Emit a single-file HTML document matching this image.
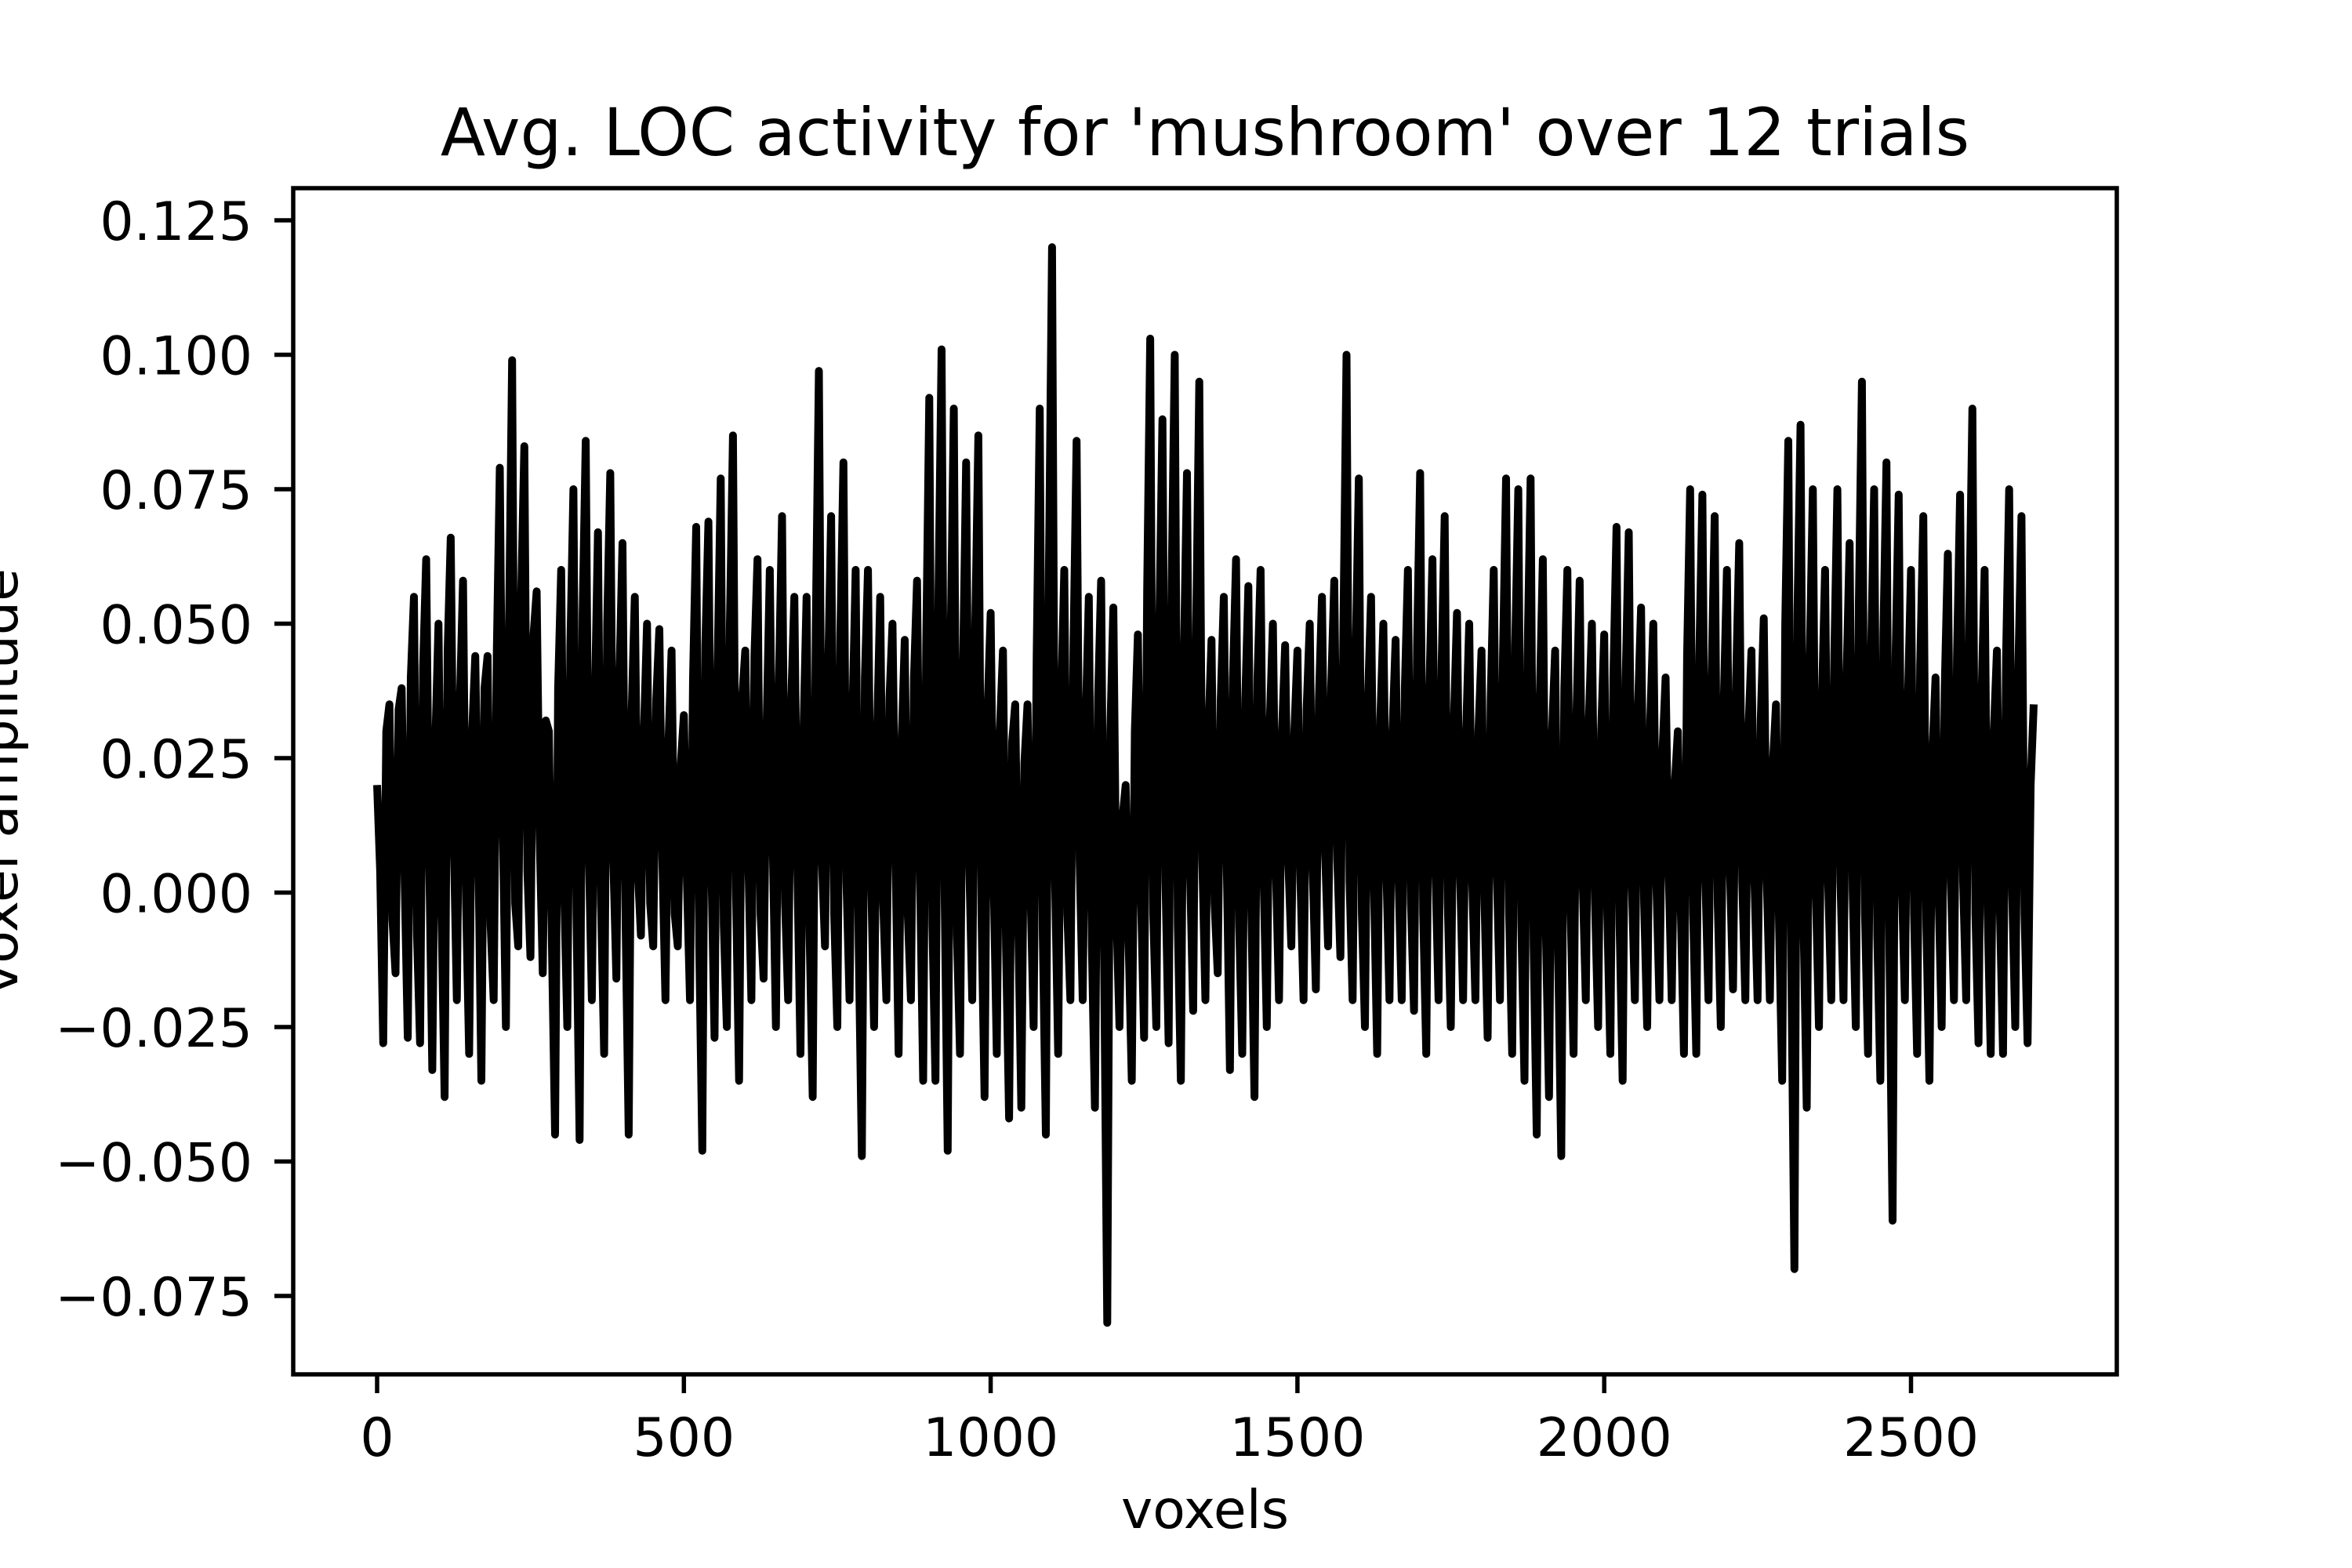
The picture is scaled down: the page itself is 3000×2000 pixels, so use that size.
<!DOCTYPE html>
<html><head><meta charset="utf-8"><style>
html,body{margin:0;padding:0;background:#fff;}
svg{display:block;font-family:"DejaVu Sans","Liberation Sans",sans-serif;}
</style></head><body>
<svg id="chart" width="3000" height="2000" viewBox="0 0 3000 2000" xmlns="http://www.w3.org/2000/svg">
<rect width="3000" height="2000" fill="#fff"/>
<text x="1537" y="198" font-size="83.5" text-anchor="middle">Avg. LOC activity for 'mushroom' over 12 trials</text>
<g id="plot"></g>
<text x="1537" y="1949" font-size="68" text-anchor="middle">voxels</text>
<text transform="translate(22,997) rotate(-90)" font-size="68" text-anchor="middle">voxel amplitude</text>
</svg>
<script>
const xTicks = [0, 500, 1000, 1500, 2000, 2500];
const xTickLabels = ["0", "500", "1000", "1500", "2000", "2500"];
const yTicks = [-0.075, -0.05, -0.025, 0, 0.025, 0.05, 0.075, 0.1, 0.125];
const yTickLabels = ["\u22120.075", "\u22120.050", "\u22120.025", "0.000", "0.025", "0.050", "0.075", "0.100", "0.125"];
const voxelStep = 10;
const amplitudes = [
0.02,-0.028,0.035,-0.015,0.038,-0.027,0.055,-0.028,0.062,-0.033,
0.05,-0.038,0.066,-0.02,0.058,-0.03,0.044,-0.035,0.044,-0.02,
0.079,-0.025,0.099,-0.01,0.083,-0.012,0.056,-0.015,0.03,-0.045,
0.06,-0.025,0.075,-0.046,0.084,-0.02,0.067,-0.03,0.078,-0.016,
0.065,-0.045,0.055,-0.008,0.05,-0.01,0.049,-0.02,0.045,-0.01,
0.033,-0.02,0.068,-0.048,0.069,-0.027,0.077,-0.025,0.085,-0.035,
0.045,-0.02,0.062,-0.016,0.06,-0.025,0.07,-0.02,0.055,-0.03,
0.055,-0.038,0.097,-0.01,0.07,-0.025,0.08,-0.02,0.06,-0.049,
0.06,-0.025,0.055,-0.02,0.05,-0.03,0.047,-0.02,0.058,-0.035,
0.092,-0.035,0.101,-0.048,0.09,-0.03,0.08,-0.02,0.085,-0.038,
0.052,-0.03,0.045,-0.042,0.035,-0.04,0.035,-0.025,0.09,-0.045,
0.12,-0.03,0.06,-0.02,0.084,-0.02,0.055,-0.04,0.058,-0.08,
0.053,-0.025,0.02,-0.035,0.048,-0.027,0.103,-0.025,0.088,-0.028,
0.1,-0.035,0.078,-0.022,0.095,-0.02,0.047,-0.015,0.055,-0.033,
0.062,-0.03,0.057,-0.038,0.06,-0.025,0.05,-0.02,0.046,-0.01,
0.045,-0.02,0.05,-0.018,0.055,-0.01,0.058,-0.012,0.1,-0.02,
0.077,-0.025,0.055,-0.03,0.05,-0.02,0.047,-0.02,0.06,-0.022,
0.078,-0.03,0.062,-0.02,0.07,-0.025,0.052,-0.02,0.05,-0.02,
0.045,-0.027,0.06,-0.02,0.077,-0.03,0.075,-0.035,0.077,-0.045,
0.062,-0.038,0.045,-0.049,0.06,-0.03,0.058,-0.02,0.05,-0.025,
0.048,-0.03,0.068,-0.035,0.067,-0.02,0.053,-0.025,0.05,-0.02,
0.04,-0.02,0.03,-0.03,0.075,-0.03,0.074,-0.02,0.07,-0.025,
0.06,-0.018,0.065,-0.02,0.045,-0.02,0.051,-0.02,0.035,-0.035,
0.084,-0.07,0.087,-0.04,0.075,-0.025,0.06,-0.02,0.075,-0.02,
0.065,-0.025,0.095,-0.03,0.075,-0.035,0.08,-0.061,0.074,-0.02,
0.06,-0.03,0.07,-0.035,0.04,-0.025,0.063,-0.02,0.074,-0.02,
0.09,-0.028,0.06,-0.03,0.045,-0.03,0.075,-0.025,0.07,-0.028,0.035
];
const midAmplitudes = [
0.004,0.03,-0.005,0.034,0.002,0.04,-0.008,0.042,0.006,0.028,
-0.004,0.045,0.01,0.036,-0.002,0.03,0.008,0.038,-0.006,0.044,
0.012,0.05,-0.002,0.056,0.004,0.048,0.01,0.032,-0.01,0.038,
0.0,0.046,-0.004,0.052,0.008,0.036,-0.002,0.05,0.006,0.04,
-0.006,0.034,0.004,0.03,-0.002,0.036,0.006,0.028,-0.004,0.024,
0.002,0.04,-0.01,0.046,0.004,0.042,-0.006,0.05,0.0,0.036,
0.006,0.044,-0.004,0.032,0.008,0.04,-0.002,0.036,0.004,0.03,
-0.008,0.05,0.006,0.04,-0.004,0.048,0.002,0.034,-0.01,0.04,
0.004,0.03,-0.002,0.036,0.006,0.028,-0.004,0.04,0.002,0.046,
-0.006,0.056,0.0,0.048,-0.008,0.042,0.006,0.05,-0.004,0.034,
0.002,0.03,-0.01,0.028,-0.006,0.024,0.0,0.044,-0.008,0.06,
0.002,0.036,-0.004,0.046,0.006,0.032,-0.01,0.036,-0.014,0.03,
-0.004,0.014,-0.01,0.03,0.0,0.056,-0.004,0.05,0.002,0.058,
-0.006,0.044,0.004,0.05,0.006,0.03,-0.002,0.036,0.004,0.04,
-0.006,0.036,-0.004,0.04,0.002,0.032,0.004,0.03,0.006,0.03,
0.002,0.034,0.004,0.036,0.008,0.038,0.006,0.05,0.002,0.044,
-0.004,0.036,0.0,0.032,0.004,0.03,0.002,0.038,-0.002,0.046,
-0.004,0.038,0.004,0.042,-0.002,0.032,0.004,0.03,0.002,0.03,
-0.002,0.036,0.004,0.044,-0.004,0.046,-0.006,0.044,-0.01,0.036,
-0.008,0.03,-0.012,0.038,-0.002,0.034,0.002,0.032,-0.002,0.03,
-0.004,0.04,-0.006,0.04,0.002,0.034,-0.002,0.032,0.002,0.026,
0.004,0.02,-0.004,0.044,-0.004,0.044,0.002,0.04,-0.002,0.036,
0.004,0.04,0.002,0.03,0.002,0.032,0.002,0.024,-0.006,0.05,
-0.014,0.052,-0.006,0.044,0.0,0.036,0.002,0.044,0.002,0.04,
0.0,0.054,-0.004,0.044,-0.008,0.048,-0.012,0.044,0.002,0.036,
-0.004,0.042,-0.006,0.026,0.0,0.038,0.002,0.044,0.002,0.05,
-0.004,0.036,-0.004,0.03,-0.004,0.044,0.0,0.042,-0.004,0.02
];

const NS = "http://www.w3.org/2000/svg";
const L = 374, R = 2700, T = 240, B = 1753;
function xScale(v){ return 481 + v * (2437.5 - 481) / 2500; }
function yScale(v){ return 1138.5 - v * (171.5 / 0.025); }
const plot = document.getElementById('plot');

const pts = [];
amplitudes.forEach((a, i) => {
  pts.push(xScale(i * voxelStep).toFixed(1) + ',' + yScale(a).toFixed(1));
  if (i < midAmplitudes.length && i < amplitudes.length - 1) {
    pts.push(xScale(i * voxelStep + voxelStep / 2).toFixed(1) + ',' + yScale(midAmplitudes[i]).toFixed(1));
  }
});
const line = document.createElementNS(NS, 'polyline');


line.setAttribute('points', pts.join(' '));
line.setAttribute('fill', 'none');
line.setAttribute('stroke', '#000');
line.setAttribute('stroke-width', '10');
line.setAttribute('stroke-linejoin', 'round');
plot.appendChild(line);

const frame = document.createElementNS(NS, 'rect');


frame.setAttribute('x', L); frame.setAttribute('y', T);
frame.setAttribute('width', R - L); frame.setAttribute('height', B - T);
frame.setAttribute('fill', 'none'); frame.setAttribute('stroke', '#000'); frame.setAttribute('stroke-width', '5.5');
plot.appendChild(frame);

xTicks.forEach((v, i) => {
  const x = xScale(v);
  const t = document.createElementNS(NS, 'line');
  
  
  t.setAttribute('x1', x); t.setAttribute('x2', x); t.setAttribute('y1', B); t.setAttribute('y2', B + 24);
  t.setAttribute('stroke', '#000'); t.setAttribute('stroke-width', '5.5');
  plot.appendChild(t);
  const lb = document.createElementNS(NS, 'text');
  
  
  lb.setAttribute('x', x); lb.setAttribute('y', 1857);
  lb.setAttribute('font-size', '68'); lb.setAttribute('text-anchor', 'middle');
  lb.textContent = xTickLabels[i];
  plot.appendChild(lb);
});
yTicks.forEach((v, i) => {
  const y = yScale(v);
  const t = document.createElementNS(NS, 'line');
  
  
  t.setAttribute('x1', L - 24); t.setAttribute('x2', L); t.setAttribute('y1', y); t.setAttribute('y2', y);
  t.setAttribute('stroke', '#000'); t.setAttribute('stroke-width', '5.5');
  plot.appendChild(t);
  const lb = document.createElementNS(NS, 'text');
  
  
  lb.setAttribute('x', 322); lb.setAttribute('y', y + 25);
  lb.setAttribute('font-size', '68'); lb.setAttribute('text-anchor', 'end');
  lb.textContent = yTickLabels[i];
  plot.appendChild(lb);
});
</script>
</body></html>
